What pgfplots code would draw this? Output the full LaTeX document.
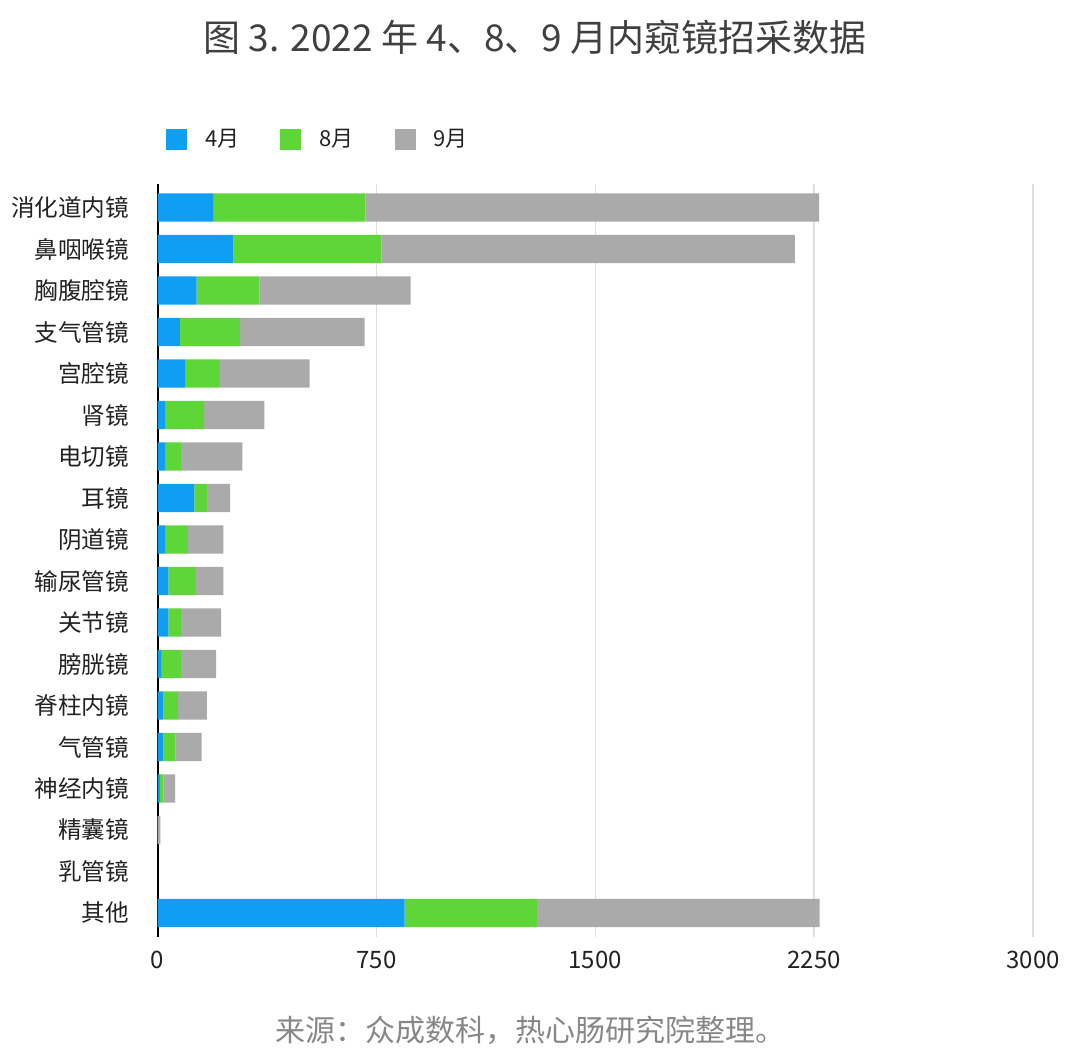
\documentclass[border=0pt]{standalone}
\usepackage{pgfplots}
\pgfplotsset{compat=1.18}
\usepackage{pgfplotstable}
\usepackage{fontspec}
\setmainfont{Noto Sans CJK SC}
\definecolor{cA}{RGB}{16,158,242}
\definecolor{cB}{RGB}{94,214,56}
\definecolor{cC}{RGB}{170,170,170}
\definecolor{gridc}{RGB}{222,222,222}
\definecolor{txt}{RGB}{34,34,34}
\pgfplotstableread{
idx a b c
0 191 521 1555
1 260 507 1417
2 134 215 518
3 77 206 427
4 94 117 310
5 28 132 206
6 28 52 211
7 126 43 80
8 28 76 122
9 37 92 97
10 37 43 138
11 12 68 121
12 20 51 98
13 20 42 89
14 8 12 40
15 0 1 9
16 0 0 0
17 847 453 969
}\datatable
\begin{document}
\begin{tikzpicture}
\path (0,0) rectangle (540pt,531pt);
\node[text=black!75, font=\fontsize{18.5pt}{22pt}\selectfont, anchor=center] at (267.5pt,512.5pt) {图 3. 2022 年 4、8、9 月内窥镜招采数据};
\node[text=black!47, font=\fontsize{15pt}{18pt}\selectfont, anchor=center] at (265pt,16pt) {来源：众成数科，热心肠研究院整理。};
\begin{axis}[
  at={(78.75pt,62.675pt)}, anchor=south west,
  scale only axis, width=437.75pt, height=376.4pt,
  xbar stacked, bar width=14.15pt,
  y dir=reverse,
  xmin=0, xmax=3000, ymin=-0.57, ymax=17.57,
  xtick={0,750,1500,2250,3000},
  ytick={0,...,17},
  yticklabels={消化道内镜,鼻咽喉镜,胸腹腔镜,支气管镜,宫腔镜,肾镜,电切镜,耳镜,阴道镜,输尿管镜,关节镜,膀胱镜,脊柱内镜,气管镜,神经内镜,精囊镜,乳管镜,其他},
  major tick length=0pt,
  xmajorgrids, major grid style={gridc, line width=0.75pt},
  axis line style={draw=none},
  y axis line style={draw=none},
  /pgf/number format/assume math mode=true,
  /pgf/number format/1000 sep={},
  xticklabel style={font=\fontsize{12pt}{14pt}\selectfont, text=txt, anchor=center, yshift=-11.7pt, inner sep=0pt},
  yticklabel style={font=\fontsize{11.8pt}{14pt}\selectfont, text=txt, anchor=east, inner sep=0pt, xshift=-14pt},
  legend columns=3,
  legend cell align=left,
  legend style={at={(0.0094,1.0589)}, anchor=west, draw=none, fill=none, inner sep=0pt,
    font=\fontsize{11pt}{13pt}\selectfont, text=txt,
    nodes={inner sep=0pt},
    column sep=9pt,
    /tikz/every even column/.append style={column sep=20.5pt}},
  clip=false,
  myleg/.style={legend image code/.code={\fill[##1] (0pt,-5.25pt) rectangle (10.5pt,5.25pt);}},
]
\addplot[fill=cA, draw=none, myleg] table[x=a, y=idx] {\datatable};
\addplot[fill=cB, draw=none, myleg] table[x=b, y=idx] {\datatable};
\addplot[fill=cC, draw=none, myleg] table[x=c, y=idx] {\datatable};
\legend{4月,8月,9月}
\draw[black, line width=1pt] (axis cs:0,-0.57) -- (axis cs:0,17.57);
\end{axis}
\end{tikzpicture}
\end{document}
